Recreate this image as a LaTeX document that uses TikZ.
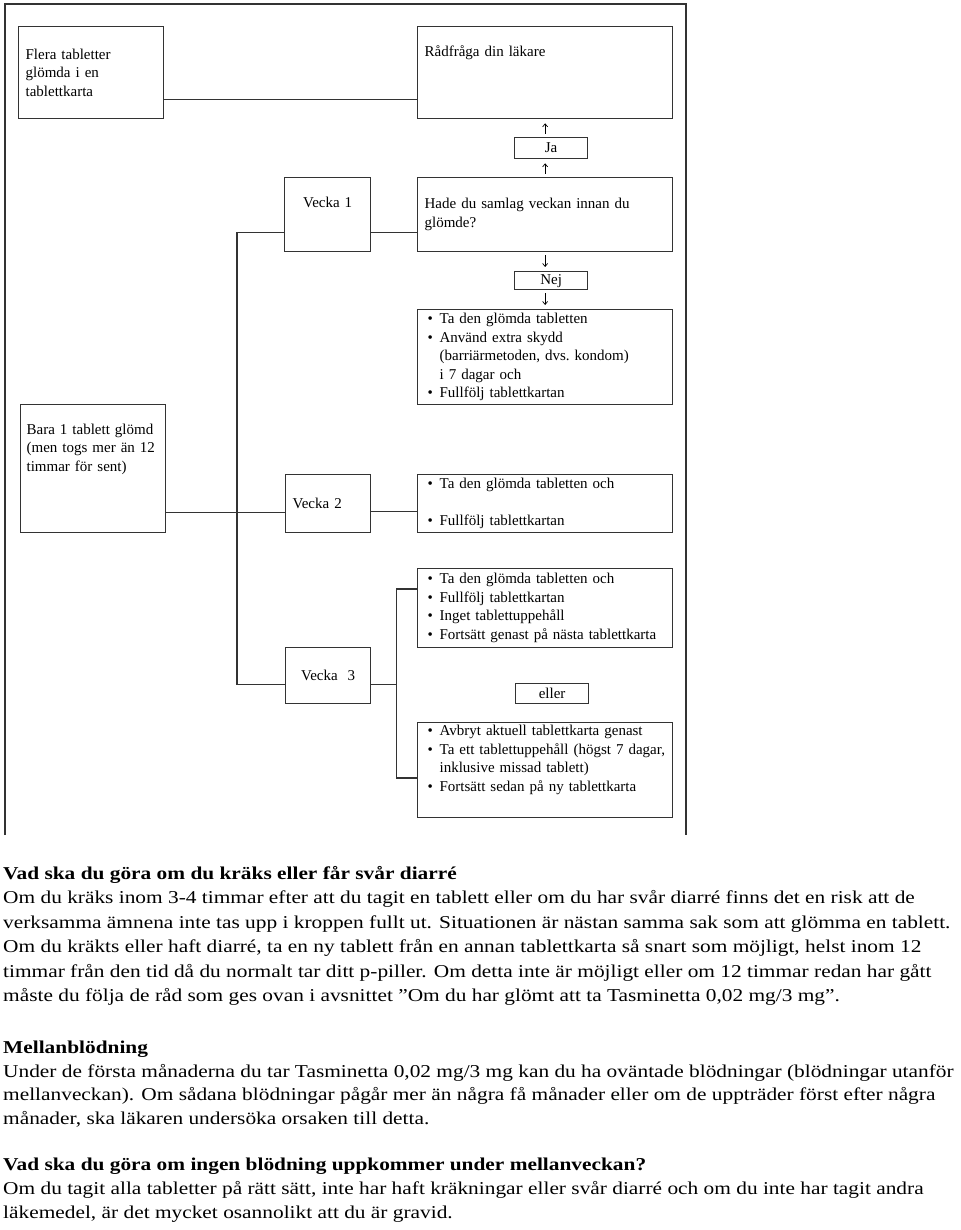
\documentclass[tikz,border=0pt]{standalone}
\usepackage{fontspec}
\setmainfont{Liberation Serif}
\newfontfamily\bodyfont[FakeStretch=1.18]{Liberation Serif}
\usetikzlibrary{arrows.meta}
\newcommand{\blt}{\makebox[12pt][l]{\textbullet}}
\newcommand{\ind}{\hspace*{12pt}}
\begin{document}
\begin{tikzpicture}[x=1pt,y=-1pt,
	box/.style={draw=black!80, line width=1.3pt, anchor=north west, align=left, inner xsep=7pt, inner ysep=0pt, font=\fontsize{15}{18.5}\selectfont},
	tag/.style={box, align=center, inner xsep=0pt},
	link/.style={draw=black!80, line width=1.3pt},
	arr/.style={draw=black, line width=0.7pt, -{Straight Barb[length=3pt,width=5pt]}, shorten <=3pt, shorten >=4pt},
	para/.style={anchor=base west, inner sep=0pt, font=\bodyfont\fontsize{18.1}{24}\selectfont},
	head/.style={para, font=\bodyfont\fontsize{18.1}{24}\selectfont\bfseries}]
	\useasboundingbox (0,0) rectangle (960,1230);
	% Frame
	\draw [link] (5,835) -- (5,4) -- (686,4) -- (686,835);
	% Boxes
	\node[box, minimum width=145, minimum height=92, text width=131] (flera) at (18,26) {Flera tabletter\\ glömda i en\\ tablettkarta};
	\node[box, minimum width=255, minimum height=92, text width=241] (raad) at (417,26) {Rådfråga din läkare\\ \strut\\ \strut};
	\node[tag, minimum width=73, minimum height=21, text width=73] (ja) at (514,137) {Ja};
	\node[box, minimum width=255, minimum height=74, text width=241] (hade) at (417,177) {Hade du samlag veckan innan du\\ glömde?};
	\node[tag, minimum width=86, minimum height=74, text width=86] (v1) at (284,177) {Vecka 1\\ \strut};
	\node[tag, minimum width=73, minimum height=18, text width=73] (nej) at (514,271) {Nej};
	\node[box, inner xsep=10pt, minimum width=255, minimum height=95, text width=235] (b1) at (417,309) {\blt Ta den glömda tabletten\\ \blt Använd extra skydd\\ \ind(barriärmetoden, dvs.\ kondom)\\ \ind i 7 dagar och\\ \blt Fullfölj tablettkartan};
	\node[box, inner xsep=6pt, minimum width=145, minimum height=128, text width=133] (bara) at (20,404) {Bara 1 tablett glömd\\ (men togs mer än 12\\ timmar för sent)\\ \strut\\ \strut};
	\node[box, minimum width=85, minimum height=58, text width=71] (v2) at (285,474) {Vecka 2};
	\node[box, inner xsep=10pt, minimum width=255, minimum height=58, text width=235] (b2) at (417,474) {\blt Ta den glömda tabletten och\\ \strut\\ \blt Fullfölj tablettkartan};
	\node[box, inner xsep=10pt, minimum width=255, minimum height=79, text width=235] (b3) at (417,568) {\blt Ta den glömda tabletten och\\ \blt Fullfölj tablettkartan\\ \blt Inget tablettuppehåll\\ \blt \mbox{Fortsätt genast på nästa tablettkarta}};
	\node[tag, minimum width=85, minimum height=56, text width=85] (v3) at (285,647) {Vecka \ 3};
	\node[tag, minimum width=73, minimum height=20, text width=73] (eller) at (515,683) {eller};
	\node[box, inner xsep=10pt, minimum width=255, minimum height=95, text width=235] (b4) at (417,722) {\blt Avbryt aktuell tablettkarta genast\\ \blt \mbox{Ta ett tablettuppehåll (högst 7 dagar,}\\ \ind inklusive missad tablett)\\ \blt Fortsätt sedan på ny tablettkarta\\ \strut};
	% Connectors
	\draw [link] ([yshift=-27pt]flera.east) -- ([yshift=-27pt]raad.west);
	\draw [arr] (ja.north -| raad.south) -- (raad.south);
	\draw [arr] (hade.north) -- (hade.north |- ja.south);
	\draw [arr] (hade.south) -- (hade.south |- nej.north);
	\draw [arr] (nej.south -| b1.north) -- (b1.north);
	\draw [link] ([yshift=-18pt]v1.east) -- ([yshift=-18pt]hade.west);
	\draw [link] ([yshift=-18pt]v1.west) -- ++(-47,0) |- ([yshift=-9pt]v3.west);
	\draw [link] ([yshift=-44pt]bara.east) -- ([yshift=-9pt]v2.west);
	\draw [link] ([yshift=-8pt]v2.east) -- ([yshift=-8pt]b2.west);
	\draw [link] ([yshift=-9pt]v3.east) -- ++(25,0) coordinate (fork);
	\draw [link] ([yshift=-21pt]b3.north west) -| (fork) |- ([yshift=-56pt]b4.north west);
	% Text below
	\node[head] (h1) at (3,879) {Vad ska du göra om du kräks eller får svår diarré};
	\node[para] (p1) at (3,903) {Om du kräks inom 3-4 timmar efter att du tagit en tablett eller om du har svår diarré finns det en risk att de};
	\node[para] (p2) at (3,928) {verksamma ämnena inte tas upp i kroppen fullt ut. Situationen är nästan samma sak som att glömma en tablett.};
	\node[para] (p3) at (3,952) {Om du kräkts eller haft diarré, ta en ny tablett från en annan tablettkarta så snart som möjligt, helst inom 12};
	\node[para] (p4) at (3,977) {timmar från den tid då du normalt tar ditt p-piller. Om detta inte är möjligt eller om 12 timmar redan har gått};
	\node[para] (p5) at (3,1001) {måste du följa de råd som ges ovan i avsnittet ”Om du har glömt att ta Tasminetta 0,02 mg/3 mg”.};
	\node[head] (h2) at (3,1053) {Mellanblödning};
	\node[para] (q1) at (3,1077) {Under de första månaderna du tar Tasminetta 0,02 mg/3 mg kan du ha oväntade blödningar (blödningar utanför};
	\node[para] (q2) at (3,1100) {mellanveckan). Om sådana blödningar pågår mer än några få månader eller om de uppträder först efter några};
	\node[para] (q3) at (3,1124) {månader, ska läkaren undersöka orsaken till detta.};
	\node[head] (h3) at (3,1170) {Vad ska du göra om ingen blödning uppkommer under mellanveckan?};
	\node[para] (r1) at (3,1194) {Om du tagit alla tabletter på rätt sätt, inte har haft kräkningar eller svår diarré och om du inte har tagit andra};
	\node[para] (r2) at (3,1218) {läkemedel, är det mycket osannolikt att du är gravid.};
\end{tikzpicture}
\end{document}
